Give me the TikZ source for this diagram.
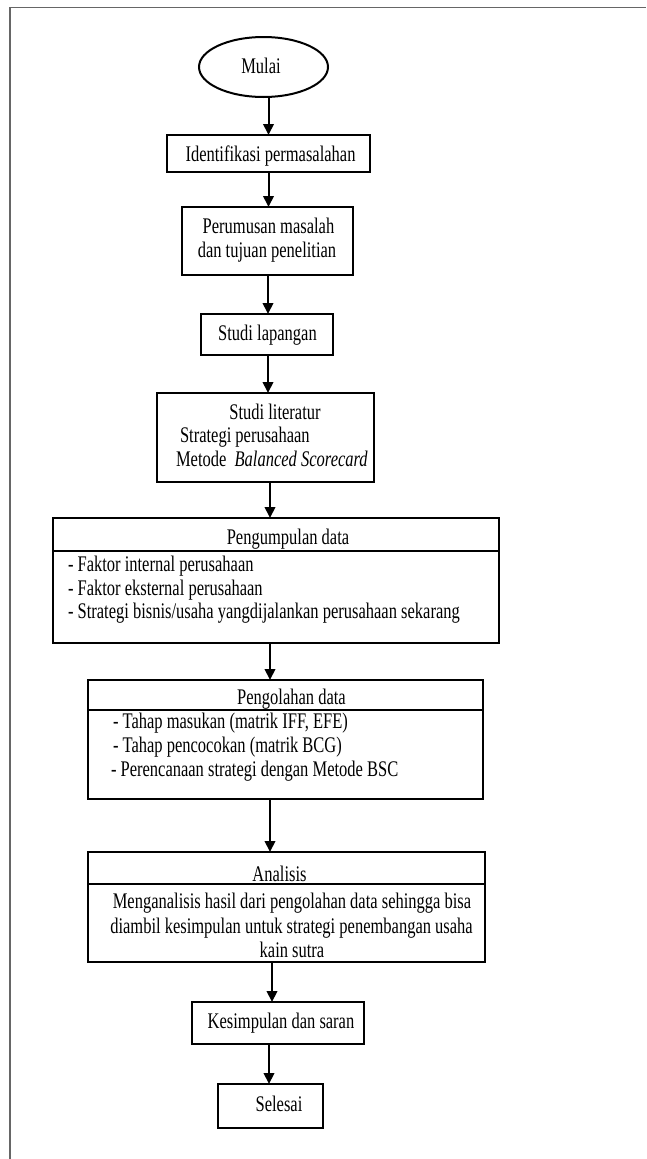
\documentclass[tikz,border=0pt]{standalone}
\usepackage{fontspec}
\setmainfont{Liberation Serif}[FakeStretch=0.74]
\usetikzlibrary{arrows.meta,shapes.geometric}
\begin{document}
\begin{tikzpicture}[x=1pt,y=-1pt,
  box/.style={draw=black,line width=2pt,rectangle,inner sep=0pt,outer sep=0pt},
  oval/.style={draw=black,line width=2pt,ellipse,inner sep=0pt,outer sep=0pt},
  txt/.style={inner sep=0pt,outer sep=0pt,font=\fontsize{22.3}{23.5}\selectfont,anchor=base},
  txtl/.style={txt,anchor=base west},
  arr/.style={line width=2pt,-{Triangle[width=10.5pt,length=11pt]}},
  framec/.style={draw=black!60,line width=1.6pt}]
\useasboundingbox (0,0) rectangle (646,1159);
\draw[framec] (10,1159) -- (10,7.5) -- (646,7.5);

% start
\node[oval,minimum width=129pt,minimum height=60pt] (ell) at (263.5,67) {};
\node[txt] (tell) at (261,73) {Mulai};

% box 1
\node[box,minimum width=203pt,minimum height=37pt] (b1) at (268.5,153.5) {};
\node[txt] (tb1) at (270.5,161) {Identifikasi permasalahan};

% box 2
\node[box,minimum width=171pt,minimum height=68pt] (b2) at (267.5,241) {};
\node[txt] (tb2a) at (268.5,233) {Perumusan masalah};
\node[txt] (tb2b) at (267,257) {dan tujuan penelitian};

% box 3
\node[box,minimum width=132pt,minimum height=41pt] (b3) at (267,334.5) {};
\node[txt] (tb3) at (267.5,340) {Studi lapangan};

% box 4
\node[box,minimum width=217pt,minimum height=89pt] (b4) at (265.5,437.5) {};
\node[txt] (tb4a) at (275,419) {Studi literatur};
\node[txtl] (tb4b) at (180,442) {Strategi perusahaan};
\node[txtl] (tb4c) at (176,466) {Metode\ \ \textit{Balanced Scorecard}};

% box 5
\node[box,minimum width=446pt,minimum height=33pt] (h5) at (276,534.5) {};
\node[box,minimum width=446pt,minimum height=92pt] (b5) at (276,597) {};
\node[txt] (th5) at (288,544) {Pengumpulan data};
\node[txtl] (tb5a) at (68,571) {- Faktor internal perusahaan};
\node[txtl] (tb5b) at (68,595) {- Faktor eksternal perusahaan};
\node[txtl] (tb5c) at (68,618) {- Strategi bisnis/usaha yangdijalankan perusahaan sekarang};

% box 6
\node[box,minimum width=395pt,minimum height=30pt] (h6) at (285.5,695) {};
\node[box,minimum width=395pt,minimum height=89pt] (b6) at (285.5,754.5) {};
\node[txt] (th6) at (291.5,704) {Pengolahan data};
\node[txtl] (tb6a) at (113,728) {- Tahap masukan (matrik IFF, EFE)};
\node[txtl] (tb6b) at (113,752) {- Tahap pencocokan (matrik BCG)};
\node[txtl] (tb6c) at (111,776) {- Perencanaan strategi dengan Metode BSC};

% box 7
\node[box,minimum width=397pt,minimum height=32pt] (h7) at (286.5,868) {};
\node[box,minimum width=397pt,minimum height=78pt] (b7) at (286.5,923) {};
\node[txt] (th7) at (279.5,881) {Analisis};
\node[txt] (tb7a) at (292,908) {Menganalisis hasil dari pengolahan data sehingga bisa};
\node[txt] (tb7b) at (291.5,933) {diambil kesimpulan untuk strategi penembangan usaha};
\node[txt] (tb7c) at (292,957) {kain sutra};

% box 8
\node[box,minimum width=172pt,minimum height=42pt] (b8) at (278,1023) {};
\node[txt] (tb8) at (281,1028) {Kesimpulan dan saran};

% box 9
\node[box,minimum width=105pt,minimum height=44pt] (b9) at (270.5,1106) {};
\node[txt] (tb9) at (279,1111) {Selesai};

% arrows
\draw[arr] (b1.north |- ell.south) -- (b1.north);
\draw[arr] (b1.south) -- (b1.south |- b2.north);
\draw[arr] ([xshift=0.5pt]b2.south) -- ([xshift=0.5pt]b2.south |- b3.north);
\draw[arr] ([xshift=1pt]b3.south) -- ([xshift=1pt]b3.south |- b4.north);
\draw[arr] ([xshift=4.5pt]b4.south) -- ([xshift=4.5pt]b4.south |- h5.north);
\draw[arr] ([xshift=-6pt]b5.south) -- ([xshift=-6pt]b5.south |- h6.north);
\draw[arr] ([xshift=-15.5pt]b6.south) -- ([xshift=-15.5pt]b6.south |- h7.north);
\draw[arr] ([xshift=-6pt]b8.north |- b7.south) -- ([xshift=-6pt]b8.north);
\draw[arr] ([xshift=-1.5pt]b9.north |- b8.south) -- ([xshift=-1.5pt]b9.north);
\end{tikzpicture}
\end{document}
